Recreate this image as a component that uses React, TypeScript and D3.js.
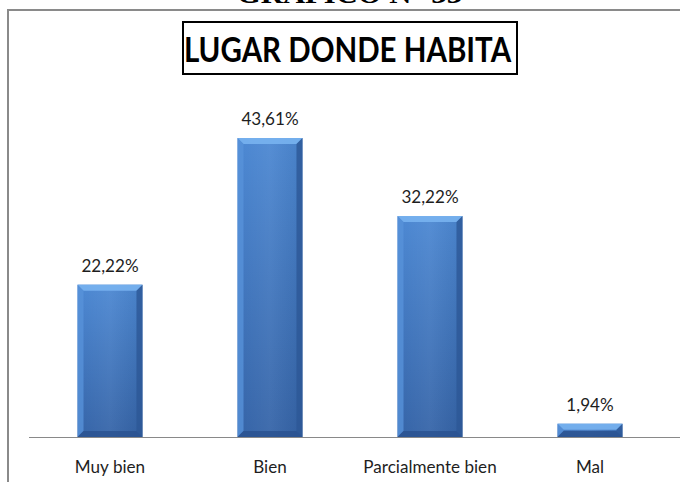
import React from "react";
import * as d3 from "d3";

const categories = ["Muy bien", "Bien", "Parcialmente bien", "Mal"];
const values = [22.22, 43.61, 32.22, 1.94];
const valueLabels = ["22,22%", "43,61%", "32,22%", "1,94%"];
const chartTitle = "LUGAR DONDE HABITA";
const captionText = "GRÁFICO N° 33";

const W = 680;
const H = 482;
const FONT = "Lato, 'Open Sans', 'DejaVu Sans', sans-serif";
const SX = 0.95;

export default function App() {
  const x = d3.scaleBand<string>().domain(categories).range([30, 670]).paddingInner(0.594).paddingOuter(0.297);
  const y = d3.scaleLinear().domain([0, 50]).range([437, 94.2]);
  const bw = x.bandwidth();
  const bev = 6;

  return (
    <svg width={W} height={H} style={{ position: "fixed", left: 0, top: 0, background: "#fff" }}>
      <defs>
        <linearGradient id="face" x1="0" y1="0" x2="0" y2="1">
          <stop offset="0" stopColor="#4b87d2" />
          <stop offset="1" stopColor="#3463a7" />
        </linearGradient>
        <linearGradient id="faceH" x1="0" y1="0" x2="1" y2="0">
          <stop offset="0" stopColor="#ffffff" stopOpacity="0" />
          <stop offset="0.5" stopColor="#ffffff" stopOpacity="0.06" />
          <stop offset="1" stopColor="#000000" stopOpacity="0.05" />
        </linearGradient>
      </defs>
      <rect x={0} y={0} width={W} height={H} fill="#fff" />
      {/* caption, cut off at top */}
      <text x={237} y={3} fontFamily="'Liberation Serif', 'Times New Roman', serif" fontWeight="bold" fontSize={28} fill="#000" textLength={225} lengthAdjust="spacingAndGlyphs">
        {captionText}
      </text>
      {/* outer border */}
      <rect x={8} y={10} width={W} height={H} fill="none" stroke="#8a8a8a" strokeWidth={2} />
      {/* title box */}
      <rect x={183} y={22} width={334} height={52} fill="#fff" stroke="#000" strokeWidth={2} />
      <g transform={`translate(${(187 + 508) / 2},62) scale(0.88,1)`}>
        <text x={0} y={0} textAnchor="middle" fontFamily={FONT} fontWeight="bold" fontSize={33.5} fill="#000">
          {chartTitle}
        </text>
      </g>
      {/* axis line */}
      <line x1={29} x2={W} y1={y(0) + 0.5} y2={y(0) + 0.5} stroke="#898989" strokeWidth={1} />
      {categories.map((c, i) => {
        const x0 = x(c)!;
        const y0 = y(values[i]);
        const y1 = y(0);
        const h = y1 - y0;
        const b = Math.min(bev, h / 2);
        const cx = x0 + bw / 2;
        return (
          <g key={c}>
            <rect x={x0} y={y0} width={bw} height={h} fill="url(#face)" />
            <rect x={x0} y={y0} width={bw} height={h} fill="url(#faceH)" />
            <path d={`M${x0},${y0} L${x0 + bw},${y0} L${x0 + bw - b},${y0 + b} L${x0 + b},${y0 + b} Z`} fill="#78b2f0" opacity={0.9} />
            <path d={`M${x0},${y0} L${x0 + b},${y0 + b} L${x0 + b},${y1 - b} L${x0},${y1} Z`} fill="#5892da" opacity={0.8} />
            <path d={`M${x0 + bw},${y0} L${x0 + bw - b},${y0 + b} L${x0 + bw - b},${y1 - b} L${x0 + bw},${y1} Z`} fill="#2d5896" opacity={0.8} />
            <path d={`M${x0},${y1} L${x0 + b},${y1 - b} L${x0 + bw - b},${y1 - b} L${x0 + bw},${y1} Z`} fill="#2a5290" opacity={0.85} />
            <g transform={`translate(${cx},${y0 - 13}) scale(${SX},1)`}>
              <text x={0} y={0} textAnchor="middle" fontFamily={FONT} fontSize={18} fill="#1e1e1e">
                {valueLabels[i]}
              </text>
            </g>
            <g transform={`translate(${cx},473) scale(${SX},1)`}>
              <text x={0} y={0} textAnchor="middle" fontFamily={FONT} fontSize={18} fill="#1e1e1e">
                {c}
              </text>
            </g>
          </g>
        );
      })}
    </svg>
  );
}
